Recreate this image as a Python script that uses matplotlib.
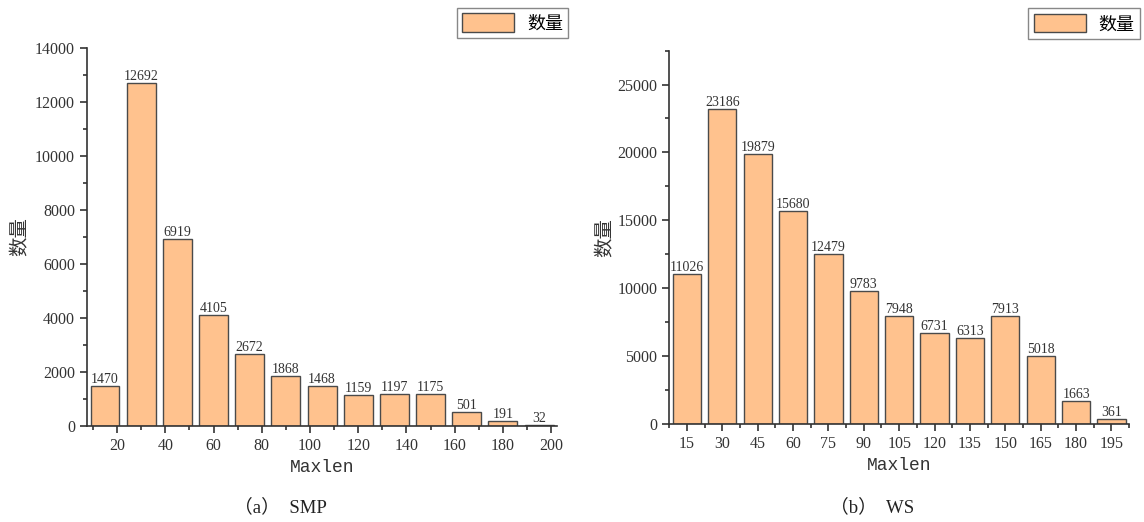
import numpy as np
import matplotlib.pyplot as plt
from matplotlib.ticker import MultipleLocator

plt.rcParams['font.family'] = ['Liberation Serif', 'Noto Sans CJK SC']

# data
smp_len = np.array([15, 30, 45, 60, 75, 90, 105, 120, 135, 150, 165, 180, 195])
smp_cnt = np.array([1470, 12692, 6919, 4105, 2672, 1868, 1468, 1159, 1197, 1175, 501, 191, 32])
smp_ticks = [20, 40, 60, 80, 100, 120, 140, 160, 180, 200]

ws_len = np.array([15, 30, 45, 60, 75, 90, 105, 120, 135, 150, 165, 180, 195])
ws_cnt = np.array([11026, 23186, 19879, 15680, 12479, 9783, 7948, 6731, 6313, 7913, 5018, 1663, 361])
ws_ticks = [15, 30, 45, 60, 75, 90, 105, 120, 135, 150, 165, 180, 195]

bar_color = "#FFC28E"
edge_color = "#4a4a4a"
cjk = ['Noto Sans CJK SC', 'DejaVu Sans']
serif_cjk = ['Liberation Serif', 'Noto Sans CJK SC']

fig = plt.figure(figsize=(11.44, 5.22), dpi=100)
ax1 = fig.add_axes([0.076, 0.184, 0.411, 0.724])
ax2 = fig.add_axes([0.585, 0.188, 0.402, 0.715])


def draw(ax, x, y, ticks, ymax, ymaj, yminor, xminor, leg_top):
    bars = ax.bar(x, y, width=12, color=bar_color, edgecolor=edge_color, linewidth=1, label="数量")
    for b, v in zip(bars, y):
        ax.text(b.get_x() + b.get_width() / 2, v, str(v), ha="center", va="bottom",
                fontsize=10, color="#333333")
    ax.set_xlim(7.5, 202.5)
    ax.set_ylim(0, ymax)
    ax.set_xticks(ticks)
    ax.xaxis.set_minor_locator(MultipleLocator(xminor))
    ax.yaxis.set_major_locator(MultipleLocator(ymaj))
    ax.yaxis.set_minor_locator(MultipleLocator(yminor))
    ax.spines["top"].set_visible(False)
    ax.spines["right"].set_visible(False)
    for s in ("left", "bottom"):
        ax.spines[s].set_color("#333333")
        ax.spines[s].set_linewidth(1.2)
    ax.tick_params(which="major", direction="out", length=5, width=1.2, colors="#333333", labelsize=11.5)
    ax.tick_params(which="minor", direction="out", length=3, width=1.2, colors="#333333")
    ax.set_xlabel("Maxlen", fontsize=13, color="#333333", family=['Liberation Mono', 'DejaVu Sans'])
    ax.set_ylabel("数量", fontsize=14, color="#333333", family=cjk)
    leg = ax.legend(loc="upper right", bbox_to_anchor=(1.024, leg_top), fancybox=False,
                    prop={"family": cjk, "size": 13}, handlelength=2.9, handleheight=1.2,
                    borderpad=0.3, borderaxespad=0, handletextpad=0.7, framealpha=1)
    leg.get_frame().set_edgecolor("#888888")
    leg.get_frame().set_linewidth(1)


draw(ax1, smp_len, smp_cnt, smp_ticks, 14000, 2000, 1000, 10, 1.106)
draw(ax2, ws_len, ws_cnt, ws_ticks, 27500, 5000, 2500, 7.5, 1.113)
ax1.yaxis.set_label_coords(-0.12, 0.5)
ax2.yaxis.set_label_coords(-0.117, 0.5)

fig.text(0.245, 0.029, "（a）  SMP", ha="center", va="center", fontsize=13.5, family=serif_cjk, color="#222222")
fig.text(0.762, 0.029, "（b）  WS", ha="center", va="center", fontsize=13.5, family=serif_cjk, color="#222222")

fig.savefig("out.png", dpi=100)
